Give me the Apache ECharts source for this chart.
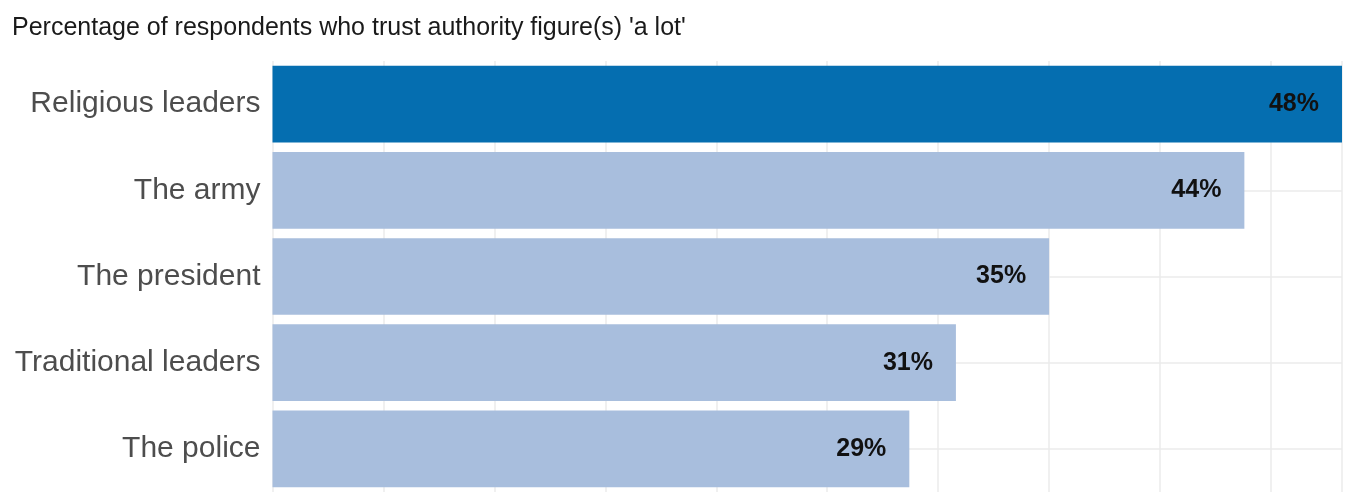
<!DOCTYPE html>
<html>
<head>
<meta charset="utf-8">
<script src="https://cdn.jsdelivr.net/npm/echarts@6/dist/echarts.min.js"></script>
<style>
html,body{margin:0;padding:0;background:#fff;}
#c{width:1346px;height:492px;}
</style>
</head>
<body>
<div id="c"></div>
<script>
const titleText = "Percentage of respondents who trust authority figure(s) 'a lot'";
const categories = ["Religious leaders", "The army", "The president", "Traditional leaders", "The police"];
const values = [48.2, 43.8, 35.0, 30.8, 28.7];
const highlight = ["Religious leaders"];
const xMax = 48.2;
const xInterval = 5;

const chart = echarts.init(document.getElementById('c'), null, {renderer: 'canvas'});
const font = "'Liberation Sans', Arial, sans-serif";
chart.setOption({
  animation: false,
  backgroundColor: '#ffffff',
  title: {
    text: titleText,
    left: 7, top: 11,
    textStyle: {fontFamily: font, fontSize: 25, fontWeight: 'normal', color: '#1a1a1a'}
  },
  grid: {left: 272.5, right: 4, top: 61, height: 432.5, containLabel: false},
  xAxis: {
    type: 'value', min: 0, max: xMax, interval: xInterval,
    axisLabel: {show: false}, axisLine: {show: false}, axisTick: {show: false},
    splitLine: {show: true, lineStyle: {color: '#ebebeb', width: 1.5}}
  },
  yAxis: {
    type: 'category', data: categories, inverse: true,
    axisLine: {show: false}, axisTick: {show: false},
    splitLine: {show: false},
    axisLabel: {fontFamily: font, fontSize: 30, color: '#4d4d4d', margin: 12}
  },
  series: [
    {
      type: 'line', z: 1, data: [], silent: true, showSymbol: false,
      markLine: {
        z: 1, silent: true, symbol: ['none', 'none'], label: {show: false},
        lineStyle: {color: '#ebebeb', width: 1.5, type: 'solid'},
        data: categories.map(c => ({yAxis: c}))
      }
    },
    {
      type: 'bar', z: 3, barCategoryGap: '11%',
      data: values.map((v, i) => ({
        value: v,
        itemStyle: {color: highlight.includes(categories[i]) ? '#056eb0' : '#a8bedd'}
      })),
      label: {
        show: true, position: 'insideRight', distance: 23,
        formatter: p => Math.round(p.value) + '%',
        fontFamily: font, fontSize: 25, fontWeight: 'bold', color: '#111111'
      }
    }
  ]
});
</script>
</body>
</html>
